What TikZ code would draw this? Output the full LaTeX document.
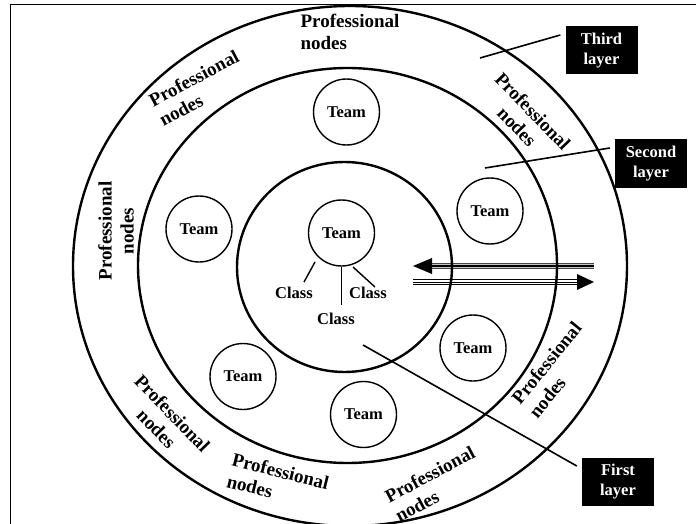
\documentclass[tikz,border=0pt]{standalone}
\usepackage{fontspec}
\setmainfont{Liberation Serif}
\usetikzlibrary{positioning}

\begin{document}
\begin{tikzpicture}[x=1pt, y=-1pt,
    ring/.style={line width=2.4pt},
    team/.style={circle, draw, line width=1.4pt, minimum size=66pt, inner sep=0pt,
        font=\fontsize{16.5}{19}\selectfont\bfseries},
    cls/.style={inner sep=1pt, font=\fontsize{16.5}{19}\selectfont\bfseries},
    stem/.style={line width=1.4pt},
    prof/.style={inner sep=0pt, font=\fontsize{19}{22}\selectfont\bfseries},
    layerbox/.style={fill=black, text=white, minimum width=72pt, minimum height=48pt,
        inner sep=0pt, align=center, font=\fontsize{16.5}{20}\selectfont\bfseries},
    pointer/.style={line width=1.6pt},
    graybar/.style={draw=gray!55!black, double=gray!45, double distance=4.4pt, line width=1pt},
    blackbar/.style={draw=black, double=white, double distance=3.4pt, line width=1pt}]
    \useasboundingbox (0,0) rectangle (696,524);

    % Frame
    \draw[line width=1pt] (10,5) rectangle (720,540);

    % Arrows
    \coordinate (inR) at (594,266);
    \coordinate (inB) at (431,266);
    \coordinate (inTip) at (413,266);
    \draw[graybar] (inR) -- (inB);
    \draw[line width=1.1pt] (inR) -- (inB);
    \fill (inTip) -- ++(19,-8) -- ++(0,16) -- cycle;
    \coordinate (outL) at (413,282);
    \coordinate (outB) at (578,282);
    \coordinate (outTip) at (594,282);
    \draw[blackbar] (outL) -- (outB);
    \draw[line width=1pt] (outL) -- (outB);
    \fill (outTip) -- ++(-17,-8) -- ++(0,16) -- cycle;

    % Layers
    \draw[ring] (350,266) ellipse [x radius=277pt, y radius=260pt];
    \draw[ring] (347.5,265.5) ellipse [x radius=209.5pt, y radius=197.5pt];
    \draw[ring] (344.5,267) ellipse [x radius=107.5pt, y radius=105pt];

    % Teams
    \node[team] (t1) at (346.5,112) {Team};
    \node[team] (t2) at (199,229) {Team};
    \node[team] (t3) at (490,211) {Team};
    \node[team] (t4) at (341.5,233) {Team};
    \node[team] (t5) at (473,348) {Team};
    \node[team] (t6) at (243,376.5) {Team};
    \node[team] (t7) at (363.5,414.5) {Team};

    % Classes
    \node[cls] (c1) at (294,293) {Class};
    \node[cls] (c2) at (368,293) {Class};
    \node[cls] (c3) at (336,319) {Class};
    \coordinate (s1a) at (315,262);
    \coordinate (s1b) at (304,282);
    \coordinate (s2a) at (353,267);
    \coordinate (s2b) at (375,287);
    \draw[stem] (s1a) -- (s1b);
    \draw[stem] (s2a) -- (s2b);
    \draw[stem, shorten >=7pt] (t4.south) -- (t4.south |- c3.north);

    % Professional nodes
    \node[prof, align=left] (pn1) at (350,31.5) {Professional\\nodes};
    \node[prof, align=left, rotate=28] (pn2) at (199,88) {Professional\\nodes};
    \node[prof, align=center, rotate=90] (pn3) at (116,231) {Professional\\nodes};
    \node[prof, align=center, rotate=-46] (pn4) at (525,119) {Professional\\nodes};
    \node[prof, align=left, rotate=51] (pn5) at (555,370) {Professional\\nodes};
    \node[prof, align=center, rotate=-46] (pn6) at (164.5,421) {Professional\\nodes};
    \node[prof, align=left, rotate=-14] (pn7) at (278,482) {Professional\\nodes};
    \node[prof, align=left, rotate=28] (pn8) at (435,484) {Professional\\nodes};

    % Layer labels
    \node[layerbox] (third) at (601.5,50.5) {Third\\layer};
    \node[layerbox] (second) at (651,163.5) {Second\\layer};
    \node[layerbox] (first) at (618,481.5) {First\\layer};
    \coordinate (p3) at (480,58);
    \coordinate (p2) at (485,168);
    \coordinate (p1) at (363,345);
    \draw[pointer] (p3) -- ([xshift=-5pt, yshift=15.5pt]third.west);
    \draw[pointer] (p2) -- ([xshift=-5pt, yshift=15.5pt]second.west);
    \draw[pointer] (p1) -- ([xshift=-5pt, yshift=15.5pt]first.west);
\end{tikzpicture}
\end{document}
